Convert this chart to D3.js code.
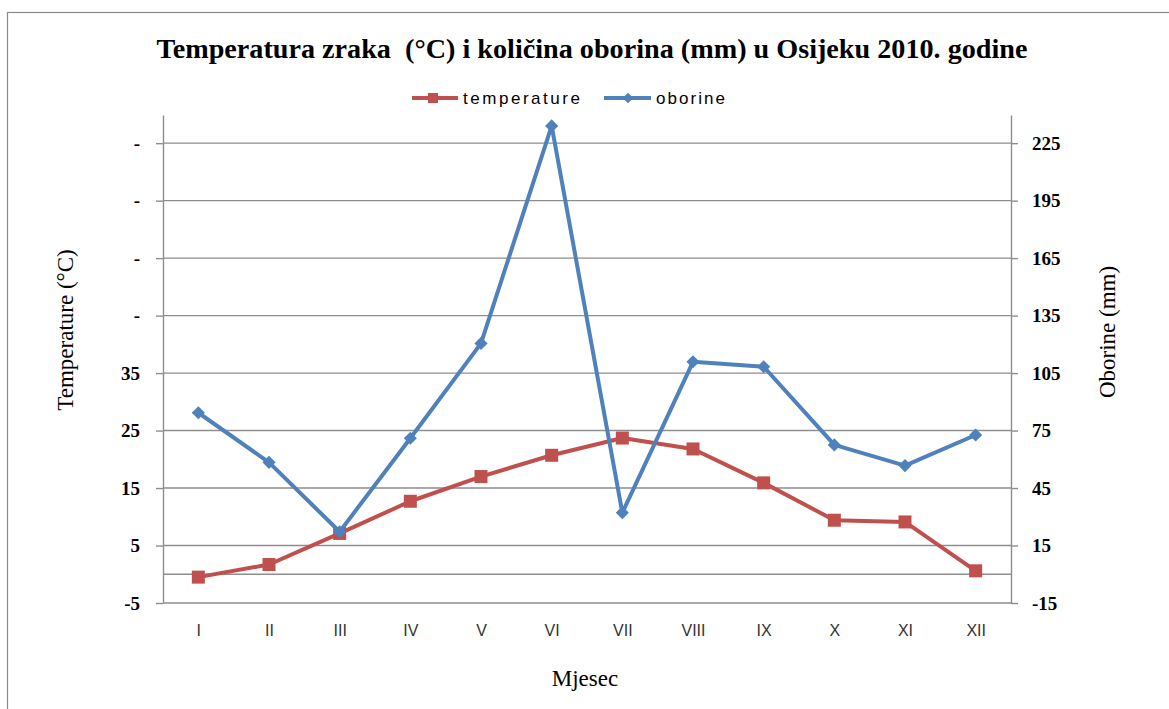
<!DOCTYPE html>
<html>
<head>
<meta charset="utf-8">
<script src="https://cdn.jsdelivr.net/npm/d3@7"></script>
<style>
  html, body { margin: 0; padding: 0; background: #fff; }
  svg { display: block; }
</style>
</head>
<body>
<svg id="chart" width="1169" height="709"></svg>
<script>
// ---- data ----
const months = ["I", "II", "III", "IV", "V", "VI", "VII", "VIII", "IX", "X", "XI", "XII"];
const temperature = [-0.5, 1.7, 7.1, 12.7, 17.0, 20.7, 23.7, 21.8, 15.9, 9.4, 9.1, 0.6];
const oborine = [84.3, 58.4, 22.2, 71.0, 120.5, 234, 32.1, 110.9, 108.3, 67.5, 56.7, 72.7];
const leftTicks = [-5, 5, 15, 25, 35, 45, 55, 65, 75];
const leftTickLabels = ["-5", "5", "15", "25", "35", "-", "-", "-", "-"];
const rightTicks = [-15, 15, 45, 75, 105, 135, 165, 195, 225];
const rightTickLabels = ["-15", "15", "45", "75", "105", "135", "165", "195", "225"];
const seriesNames = ["temperature", "oborine"];

// ---- layout ----
const svg = d3.select("#chart");
const plot = { left: 163, right: 1011, top: 115, bottom: 603 };
const gridColor = "#8e8e8e";
const red = "#C0504D", blue = "#4F81BD";
const serif = "'Liberation Serif', 'Times New Roman', serif";
const sans = "'Liberation Sans', Arial, sans-serif";

const x = d3.scalePoint().domain(months).range([plot.left, plot.right]).padding(0.5);
const yL = d3.scaleLinear().domain([-5, 79.9]).range([plot.bottom, plot.top]);
const yR = d3.scaleLinear().domain([-15, 239.7]).range([plot.bottom, plot.top]);

// outer border
svg.append("rect").attr("x", 7.5).attr("y", 12.5).attr("width", 1300).attr("height", 800)
  .attr("fill", "none").attr("stroke", "#8a8a8a").attr("stroke-width", 1.2);

// gridlines
const grid = svg.append("g");
grid.selectAll("line.g").data(leftTicks).join("line")
  .attr("x1", plot.left).attr("x2", plot.right)
  .attr("y1", d => yL(d)).attr("y2", d => yL(d))
  .attr("stroke", gridColor).attr("stroke-width", 1.4);
// horizontal category axis at 0
grid.append("line")
  .attr("x1", plot.left).attr("x2", plot.right)
  .attr("y1", yL(0)).attr("y2", yL(0))
  .attr("stroke", gridColor).attr("stroke-width", 1.4);

// left axis
const axL = svg.append("g").attr("transform", `translate(${plot.left},0)`)
  .call(d3.axisLeft(yL).tickValues(leftTicks).tickSize(7).tickSizeOuter(0).tickPadding(16)
    .tickFormat((d, i) => leftTickLabels[i]));
axL.select(".domain").attr("stroke", gridColor).attr("stroke-width", 1.4);
axL.selectAll(".tick line").attr("stroke", gridColor).attr("stroke-width", 1.4);
axL.selectAll(".tick text").attr("font-family", serif).attr("font-weight", "bold")
  .attr("font-size", 19).attr("fill", "#000");

// right axis
const axR = svg.append("g").attr("transform", `translate(${plot.right},0)`)
  .call(d3.axisRight(yR).tickValues(rightTicks).tickSize(7).tickSizeOuter(0).tickPadding(14)
    .tickFormat((d, i) => rightTickLabels[i]));
axR.select(".domain").attr("stroke", gridColor).attr("stroke-width", 1.4);
axR.selectAll(".tick line").attr("stroke", gridColor).attr("stroke-width", 1.4);
axR.selectAll(".tick text").attr("font-family", serif).attr("font-weight", "bold")
  .attr("font-size", 19).attr("fill", "#000");

// bottom category labels
const axB = svg.append("g").attr("transform", `translate(0,${plot.bottom})`)
  .call(d3.axisBottom(x).tickSize(0).tickPadding(22));
axB.select(".domain").remove();
axB.selectAll(".tick text").attr("font-family", sans).attr("font-size", 16).attr("fill", "#333");

// lines
const lineT = d3.line().x((d, i) => x(months[i])).y(d => yL(d));
const lineO = d3.line().x((d, i) => x(months[i])).y(d => yR(d));

svg.append("path").datum(temperature).attr("d", lineT)
  .attr("fill", "none").attr("stroke", red).attr("stroke-width", 4).attr("stroke-linejoin", "round");
svg.selectAll("rect.mt").data(temperature).join("rect").attr("class", "mt")
  .attr("x", (d, i) => x(months[i]) - 6.5).attr("y", d => yL(d) - 6.5)
  .attr("width", 13).attr("height", 13).attr("fill", red);

svg.append("path").datum(oborine).attr("d", lineO)
  .attr("fill", "none").attr("stroke", blue).attr("stroke-width", 4).attr("stroke-linejoin", "round");
const diamond = d3.symbol().type(d3.symbolDiamond2).size(110);
svg.selectAll("path.mo").data(oborine).join("path").attr("class", "mo")
  .attr("d", diamond)
  .attr("transform", (d, i) => `translate(${x(months[i])},${yR(d)})`)
  .attr("fill", blue);

// title
svg.append("text").attr("x", 592).attr("y", 58).attr("text-anchor", "middle")
  .style("white-space", "pre")
  .attr("font-family", serif).attr("font-weight", "bold").attr("font-size", 27)
  .attr("textLength", 871).attr("lengthAdjust", "spacingAndGlyphs")
  .text("Temperatura zraka  (°C) i količina oborina (mm) u Osijeku 2010. godine");

// legend
const lg = svg.append("g");
lg.append("line").attr("x1", 412).attr("x2", 458).attr("y1", 98).attr("y2", 98)
  .attr("stroke", red).attr("stroke-width", 4);
lg.append("rect").attr("x", 428).attr("y", 93).attr("width", 10).attr("height", 10).attr("fill", red);
lg.append("text").attr("x", 463).attr("y", 104).attr("font-family", sans).attr("font-size", 17)
  .attr("fill", "#000").attr("textLength", 117).attr("lengthAdjust", "spacing").text(seriesNames[0]);
lg.append("line").attr("x1", 604).attr("x2", 651).attr("y1", 98).attr("y2", 98)
  .attr("stroke", blue).attr("stroke-width", 4);
lg.append("path").attr("d", d3.symbol().type(d3.symbolDiamond2).size(70))
  .attr("transform", "translate(628,98)").attr("fill", blue);
lg.append("text").attr("x", 656).attr("y", 104).attr("font-family", sans).attr("font-size", 17)
  .attr("fill", "#000").attr("textLength", 69).attr("lengthAdjust", "spacing").text(seriesNames[1]);

// axis titles
svg.append("text").attr("transform", "translate(73,330) rotate(-90)").attr("text-anchor", "middle")
  .attr("font-family", serif).attr("font-size", 23).attr("fill", "#000").text("Temperature (°C)");
svg.append("text").attr("transform", "translate(1115,332) rotate(-90)").attr("text-anchor", "middle")
  .attr("font-family", serif).attr("font-size", 23).attr("fill", "#000").text("Oborine (mm)");
svg.append("text").attr("x", 585).attr("y", 686).attr("text-anchor", "middle")
  .attr("font-family", serif).attr("font-size", 23).attr("fill", "#000").text("Mjesec");
</script>
</body>
</html>
